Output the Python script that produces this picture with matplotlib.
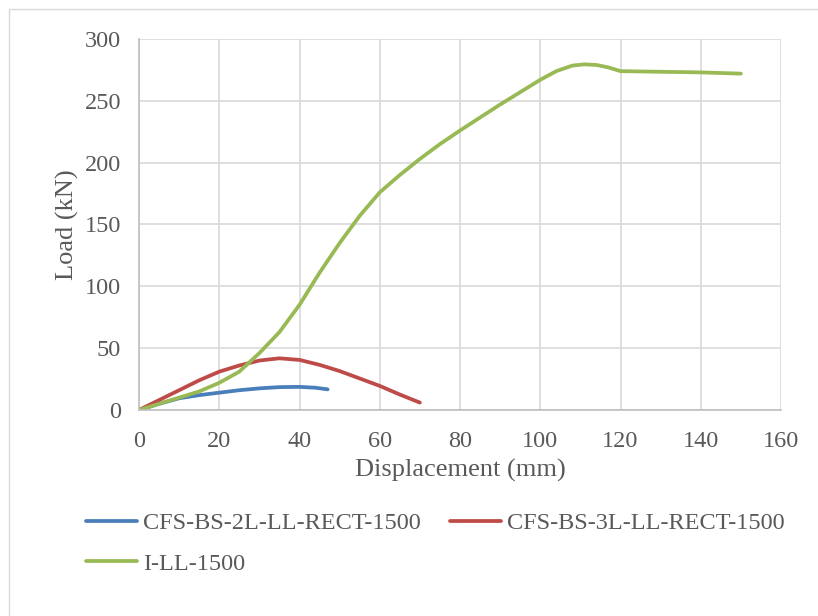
import matplotlib
matplotlib.use("Agg")
import matplotlib.pyplot as plt
from matplotlib.patches import Rectangle

# Data
blue_x = [0, 5, 10, 15, 20, 25, 30, 35, 40, 44, 47]
blue_y = [0, 5, 9.5, 12, 14, 16, 17.5, 18.5, 18.7, 18, 16.7]

red_x = [0, 5, 10, 15, 20, 25, 30, 35, 40, 45, 50, 55, 60, 65, 70]
red_y = [0, 8, 16, 24, 31, 36, 40, 41.8, 40.5, 36.5, 31.5, 25.5, 19.5, 12.5, 6]

green_x = [0, 5, 10, 15, 20, 25, 30, 35, 40, 45, 50, 55, 60, 65, 70, 75, 80,
           90, 100, 104, 108, 111, 114, 117, 120, 130, 140, 150]
green_y = [0, 5, 10, 15, 22, 31, 46, 63, 85, 111, 135, 157, 176, 190, 203, 215, 226,
           247, 267, 274, 278.5, 279.5, 279, 277, 274, 273.5, 273, 272]

series_names = ["CFS-BS-2L-LL-RECT-1500", "CFS-BS-3L-LL-RECT-1500", "I-LL-1500"]
x_ticks = [0, 20, 40, 60, 80, 100, 120, 140, 160]
y_ticks = [0, 50, 100, 150, 200, 250, 300]

plt.rcParams['font.family'] = ['Liberation Serif', 'DejaVu Serif']

fig = plt.figure(figsize=(8.18, 6.16), dpi=100)
fig.patches.append(Rectangle((9/818, -0.1), 1.2, (607/616) + 0.1,
                             transform=fig.transFigure, fill=False,
                             edgecolor='#d9d9d9', linewidth=1))

ax = fig.add_axes([139/818, 206/616, 642/818, 371/616])

lw = 2.7
l1, = ax.plot(blue_x, blue_y, color='#4a7ebb', lw=lw, solid_capstyle='round', solid_joinstyle='round')
l2, = ax.plot(red_x, red_y, color='#be4b48', lw=lw, solid_capstyle='round', solid_joinstyle='round')
l3, = ax.plot(green_x, green_y, color='#98b954', lw=lw, solid_capstyle='round', solid_joinstyle='round')

ax.set_xlim(0, 160)
ax.set_ylim(0, 300)
ax.set_xticks(x_ticks)
ax.set_yticks(y_ticks)
ax.grid(True, color='#d9d9d9', linewidth=1.2)
ax.set_axisbelow(True)
for s in ['top', 'right']:
    ax.spines[s].set_visible(False)
for s in ['left', 'bottom']:
    ax.spines[s].set_color('#bfbfbf')
    ax.spines[s].set_linewidth(1.2)
ax.tick_params(length=0, labelsize=17.5, colors='#595959')
ax.tick_params(axis='x', pad=15)
ax.tick_params(axis='y', pad=13)
ax.set_xlabel("Displacement (mm)", fontsize=19, color='#595959', labelpad=5)
ax.set_ylabel("Load (kN)", fontsize=19, color='#595959', labelpad=4)

leg = fig.legend([l1, l3, l2], [series_names[0], series_names[2], series_names[1]],
                 ncol=2, loc='upper left', bbox_to_anchor=(86/818, 1 - 512/616),
                 frameon=False, fontsize=17.5, handlelength=2.1, handletextpad=0.25,
                 columnspacing=1.2, labelspacing=0.76, borderaxespad=0, borderpad=0)
for t in leg.get_texts():
    t.set_color('#595959')

fig.savefig("out.png", dpi=100)
